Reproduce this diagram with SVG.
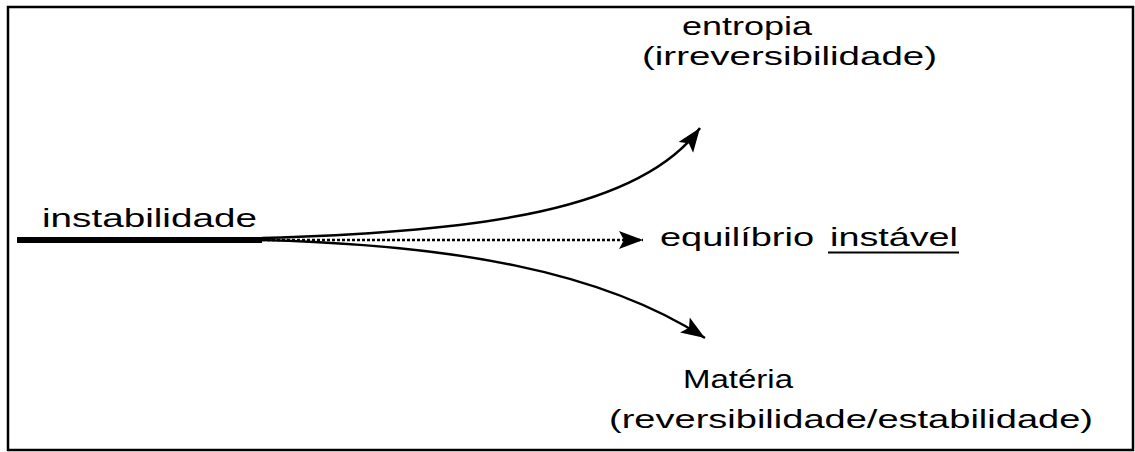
<svg xmlns="http://www.w3.org/2000/svg" width="1135" height="452" viewBox="0 0 1135 452">
<style>
.t{font-family:"Liberation Sans",Arial,sans-serif;font-size:26px;fill:#000}
.c{fill:none;stroke:#000;stroke-width:2.5}
</style>
<defs>
<marker id="ah" markerUnits="userSpaceOnUse" markerWidth="26" markerHeight="20" viewBox="0 0 26 20" refX="24" refY="10" orient="auto">
<path d="M0,1 L24,10 L0,19 L5,10 Z" fill="#000"/>
</marker>
</defs>
<rect x="8" y="7" width="1125" height="443" fill="#fff" stroke="#000" stroke-width="2.5"/>
<g id="connectors">
<line x1="17" y1="240" x2="262" y2="240" stroke="#000" stroke-width="6"/>
<path class="c" d="M262,238 C480,232 640,210 700,128" marker-end="url(#ah)"/>
<line x1="262" y1="240" x2="643" y2="240" stroke="#000" stroke-width="2.5" stroke-dasharray="3,2" marker-end="url(#ah)"/>
<path class="c" d="M262,240 C450,245 600,270 705,338" marker-end="url(#ah)"/>
</g>
<g id="instabilidade">
<text class="t" x="42" y="227" textLength="215" lengthAdjust="spacingAndGlyphs">instabilidade</text>
</g>
<g id="entropia">
<text class="t" x="682" y="35" textLength="130" lengthAdjust="spacingAndGlyphs">entropia</text>
<text class="t" x="642" y="65" textLength="295" lengthAdjust="spacingAndGlyphs">(irreversibilidade)</text>
</g>
<g id="equilibrio">
<text class="t" x="660" y="246" textLength="154" lengthAdjust="spacingAndGlyphs">equilíbrio</text>
<text class="t" x="830" y="246" textLength="128" lengthAdjust="spacingAndGlyphs">instável</text>
<line x1="828" y1="252.5" x2="959" y2="252.5" stroke="#000" stroke-width="2"/>
</g>
<g id="materia">
<text class="t" x="683" y="388" textLength="110" lengthAdjust="spacingAndGlyphs">Matéria</text>
<text class="t" x="609" y="428" textLength="484" lengthAdjust="spacingAndGlyphs">(reversibilidade/estabilidade)</text>
</g>
</svg>
